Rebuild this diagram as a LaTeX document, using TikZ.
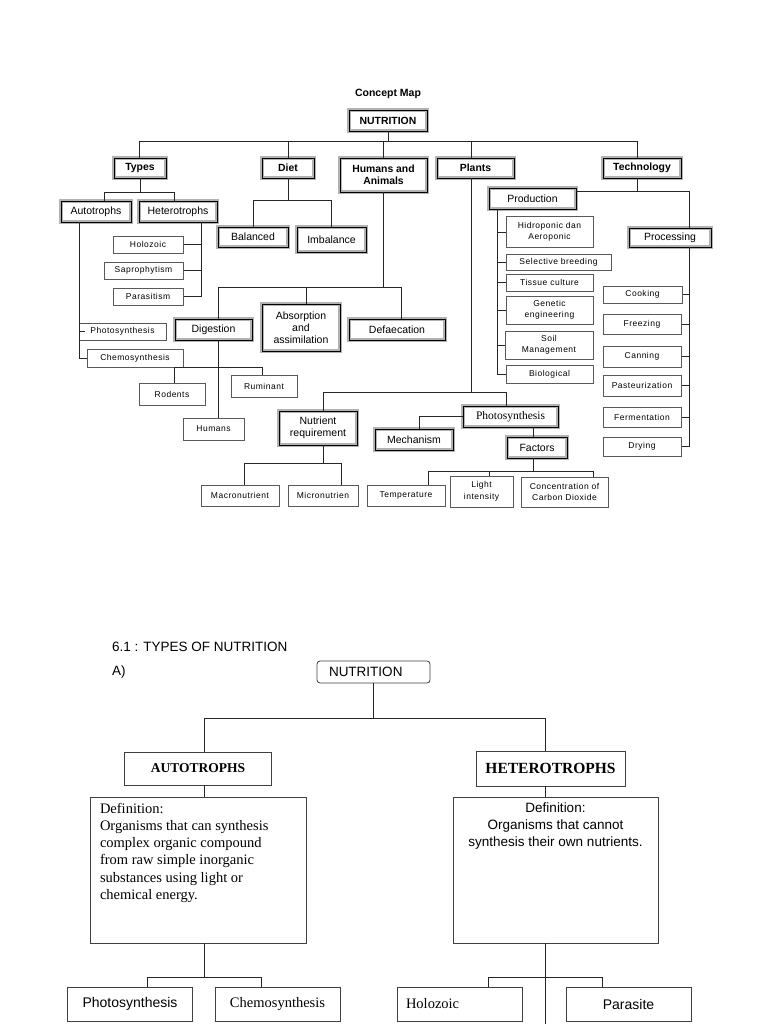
\documentclass[tikz,border=0pt]{standalone}
\usepackage{fontspec}
\setmainfont{Liberation Sans}
\newfontfamily\timesfont{Liberation Serif}
\newfontfamily\spacedfont[LetterSpace=6]{Liberation Sans}
\usetikzlibrary{calc}

\begin{document}
\begin{tikzpicture}[x=1pt,y=-1pt,every text node part/.style={align=center}]
		\tikzstyle{frame}=[rectangle,draw=black,line width=0.8pt,
                  preaction={draw=gray!60,line width=3.6pt},
                  inner sep=0pt,font=\fontsize{10.5}{12}\selectfont]
		\tikzstyle{head}=[frame,font=\bfseries\fontsize{10.4}{12}\selectfont]
		\tikzstyle{leaf}=[rectangle,draw=black!65,line width=1pt,
                  inner sep=0pt,font=\spacedfont\fontsize{8.5}{11.5}\selectfont]
		\tikzstyle{plainbox}=[rectangle,draw=black!75,line width=0.8pt,inner sep=0pt]
		\tikzstyle{leftbox}=[plainbox,every text node part/.style={align=left}]
		\tikzstyle{link}=[draw=black!85,line width=0.8pt]

		\fill[white] (0,0) rectangle (768,1024);
		\useasboundingbox (0,0) rectangle (768,1024);

		\node (title) at (388,94) {\bfseries\fontsize{10.5}{12}\selectfont Concept Map};

     	\foreach \name/\txt/\x/\y/\w/\h in {NUTR/NUTRITION/388/120.5/78/21,
     	  Types/Types/140/168/52/20, Diet/Diet/288/168/52/20,
     	  HA/Humans and\\Animals/383.5/175/87/34, Plants/Plants/475.5/168/77/20,
     	  Tech/Technology/642/168/78/20}
       		\node[head,minimum width=\w,minimum height=\h] (\name) at (\x,\y) {\txt};

     	\foreach \name/\txt/\x/\y/\w/\h in {Auto/Autotrophs/96/211.5/70/21,
     	  Hetero/Heterotrophs/178/211.5/78/21, Bal/Balanced/253/237/70/20,
     	  Imb/Imbalance/331.5/239.5/69/25, Dig/Digestion/213.5/329.5/77/21,
     	  Abs/Absorption\\and\\assimilation/301/327.5/78/47,
     	  Defa/Defaecation/397/329.5/96/21, Prod/Production/532.5/198.5/87/21,
     	  Proc/Processing/670/237.5/82/19, Nutr/Nutrient\\requirement/318/428/78/34,
     	  Mech/Mechanism/414/439.5/78/21, Fac/Factors/537/447.5/60/21}
       		\node[frame,minimum width=\w,minimum height=\h] (\name) at (\x,\y) {\txt};
    	\node[frame,minimum width=95,minimum height=21,
    	  font=\timesfont\fontsize{11.5}{13}\selectfont] (PhotoB) at (510.5,416.5) {Photosynthesis};

     	\foreach \name/\txt/\x/\y/\w/\h in {Holo/Holozoic/148/244.5/70/17,
     	  Sapro/Saprophytism/143.5/270.5/79/17, Para/Parasitism/148/296.5/70/17,
     	  Photo/Photosynthesis/122.5/331.5/87/17, Chemo/Chemosynthesis/135/358/96/18,
     	  Rod/Rodents/172/394/66/22, Rum/Ruminant/264/386/66/22, Hum/Humans/213.5/429/61/22,
     	  Hidro/Hidroponic dan\\Aeroponic/549.5/232/87/30,
     	  Sel/Selective breeding/558.5/262/105/16, Tis/Tissue culture/549.5/282.5/87/17,
     	  Gen/Genetic\\engineering/549.5/310/87/28, Soil/Soil\\Management/549/345/88/28,
     	  Bio/Biological/549.5/374/87/18,
     	  Cook/Cooking/642.5/294.5/79/17, Freez/Freezing/642/324/78/20,
     	  Can/Canning/642/356.5/78/21, Past/Pasteurization/642/385.5/78/21,
     	  Ferm/Fermentation/642/417/78/20, Dry/Drying/642/446.5/78/19,
     	  Macro/Macronutrient/240/495.5/78/21, Micro/Micronutrien/323/495.5/70/21,
     	  Temp/Temperature/406/495.5/78/21, Light/Light\\intensity/481.5/491.5/63/31,
     	  Conc/Concentration of\\Carbon Dioxide/564.5/492/87/30}
       		\node[leaf,minimum width=\w,minimum height=\h] (\name) at (\x,\y) {\txt};

        % edges

    	\path (NUTR.south) ++(0,10) coordinate (nb);
    	\draw[link] (NUTR.south) -- (nb);
    	\draw[link] ([xshift=-1]Types.north) |- (nb) -| ([xshift=-5]Tech.north);
    	\foreach \n/\s in {Diet/0, HA/-0.5, Plants/-4.5}
    	    \draw[link] ([xshift=\s]\n.north) -- ([xshift=\s]\n.north |- nb);

    	\path (Types.south) ++(0,14) coordinate (tb);
    	\draw[link] (Types.south) -- (tb);
    	\draw[link] ([xshift=8]Auto.north) |- (tb) -| ([xshift=-4]Hetero.north);
    	\draw[link] ([xshift=-17]Auto.south) |- (Chemo.west);
    	\draw[link] (Photo.west) -- ([xshift=6]Photo.west);

    	\coordinate (ht) at ([xshift=23]Hetero.south);
    	\draw[link] (ht) |- (Para.east);
    	\foreach \n in {Holo, Sapro}
    	    \draw[link] (\n.east) -- (\n.east -| ht);

    	\path (Diet.south) ++(0,22) coordinate (db);
    	\draw[link] (Diet.south) -- (db);
    	\draw[link] (Bal.north) |- (db) -| (Imb.north);

    	\path ([xshift=-0.5]HA.south) ++(0,95) coordinate (hb);
    	\draw[link] ([xshift=-0.5]HA.south) -- (hb);
    	\draw[link] ([xshift=4.5]Dig.north) |- (hb) -| ([xshift=4]Defa.north);
    	\draw[link] ([xshift=5]Abs.north) -- ([xshift=5]Abs.north |- hb);

    	\coordinate (dg) at ([xshift=4.5]Dig.south);
    	\path (dg) ++(0,27) coordinate (dgb);
    	\draw[link] (dg) -- ([xshift=4.5]Hum.north);
    	\draw[link] ([xshift=2]Rod.north) |- (dgb) -| ([xshift=-2]Rum.north);

    	\path ([xshift=-4.5]Plants.south) ++(0,214) coordinate (pb);
    	\draw[link] ([xshift=-4.5]Plants.south) -- (pb);
    	\draw[link] ([xshift=5]Nutr.north) |- (pb) -| ([xshift=-4.5]PhotoB.north);
    	\draw[link] (PhotoB.west) -| ([xshift=5]Mech.north);
    	\draw[link] ([xshift=-4]Fac.north) -- ([xshift=-4]Fac.north |- PhotoB.south);

    	\path ([xshift=-4]Fac.south) ++(0,13) coordinate (fb);
    	\draw[link] ([xshift=-4]Fac.south) -- (fb);
    	\draw[link] ([xshift=22]Temp.north) |- (fb) -| ([xshift=28.5]Conc.north);
    	\draw[link] ([xshift=7.5]Light.north) -- ([xshift=7.5]Light.north |- fb);

    	\path ([xshift=5]Nutr.south) ++(0,18) coordinate (nrb);
    	\draw[link] ([xshift=5]Nutr.south) -- (nrb);
    	\draw[link] ([xshift=4]Macro.north) |- (nrb) -| ([xshift=18]Micro.north);

    	\path ([xshift=-5]Tech.south) ++(0,13) coordinate (tcb);
    	\draw[link] ([xshift=-5]Tech.south) -- (tcb);
    	\draw[link] (Prod.east |- tcb) -| ([xshift=19]Proc.north);

    	\coordinate (pdt) at ([xshift=-35.5]Prod.south);
    	\draw[link] (pdt) |- (Bio.west);
    	\foreach \n in {Hidro, Sel, Tis, Gen, Soil}
    	    \draw[link] (\n.west) -- (\n.west -| pdt);

    	\coordinate (pct) at ([xshift=19]Proc.south);
    	\draw[link] (pct) |- (Dry.east);
    	\foreach \n in {Cook, Freez, Can, Past, Ferm}
    	    \draw[link] (\n.east) -- (\n.east -| pct);

        % types of nutrition

    	\node[anchor=west,inner sep=0pt] (sec) at (112,647)
    	  {\fontsize{13.5}{16}\selectfont 6.1 : TYPES OF NUTRITION};
    	\node[anchor=west,inner sep=0pt] (lblA) at (112,672)
    	  {\fontsize{13.5}{16}\selectfont A)};
    	\node[leftbox,rounded corners=3pt,minimum height=22,inner xsep=12pt,
    	  text width=89,font=\fontsize{13.5}{16}\selectfont] (NUT2) at (373.5,672) {NUTRITION};

    	\node[plainbox,minimum width=147,minimum height=33,
    	  font=\timesfont\bfseries\fontsize{13.5}{16}\selectfont] (AUT) at (198,768.5) {AUTOTROPHS};
    	\node[plainbox,minimum width=149,minimum height=35,
    	  font=\timesfont\bfseries\fontsize{15.5}{18}\selectfont] (HET) at (550.5,768.5) {HETEROTROPHS};

    	\node[plainbox,inner xsep=10pt,inner ysep=6pt] (DefA) at (198,870)
    	  {\parbox[c][134pt][t]{196pt}{\raggedright\timesfont\fontsize{14.5}{17.2}\selectfont
    	   Definition:\\ Organisms that can synthesis\\ complex organic compound\\
    	   from raw simple inorganic\\ substances using light or\\ chemical energy.}};
    	\node[plainbox,inner xsep=10pt,inner ysep=6pt] (DefH) at (555.5,870)
    	  {\parbox[c][134pt][t]{185pt}{\centering\fontsize{13.5}{17}\selectfont
    	   Definition:\\ Organisms that cannot\\ synthesis their own nutrients.}};

    	\node[plainbox,minimum width=125,minimum height=34,
    	  font=\fontsize{14}{16}\selectfont] (Photo2) at (130,1004) {Photosynthesis};
    	\node[plainbox,minimum width=125,minimum height=34,
    	  font=\timesfont\fontsize{14.5}{16}\selectfont] (Chemo2) at (277.5,1004) {Chemosynthesis};
    	\node[leftbox,minimum height=34,inner xsep=9pt,text width=107,
    	  font=\timesfont\fontsize{14.5}{16}\selectfont] (Holo2) at (459.5,1004) {Holozoic};
    	\node[plainbox,minimum width=125,minimum height=34,
    	  font=\fontsize{14}{16}\selectfont] (Para2) at (628.5,1004) {Parasite};
    	\coordinate (hetend) at (545,1024);

    	\path (NUT2.south) ++(0,35) coordinate (nb2);
    	\draw[link] (NUT2.south) -- (nb2);
    	\draw[link] ([xshift=6]AUT.north) |- (nb2) -| ([xshift=-5.5]HET.north);
    	\draw[link] ([xshift=6]AUT.south) -- ([xshift=6]AUT.south |- DefA.north);
    	\draw[link] ([xshift=-5.5]HET.south) -- ([xshift=-5.5]HET.south |- DefH.north);

    	\path ([xshift=6]DefA.south) ++(0,34) coordinate (ab2);
    	\draw[link] ([xshift=6]DefA.south) -- (ab2);
    	\draw[link] ([xshift=17.5]Photo2.north) |- (ab2) -| ([xshift=-16.5]Chemo2.north);

    	\path ([xshift=-10.5]DefH.south) ++(0,34) coordinate (hb2);
    	\draw[link] ([xshift=-10.5]DefH.south) -- (hetend);
    	\draw[link] ([xshift=28.5]Holo2.north) |- (hb2) -| ([xshift=-26.5]Para2.north);

\end{tikzpicture}
\end{document}
